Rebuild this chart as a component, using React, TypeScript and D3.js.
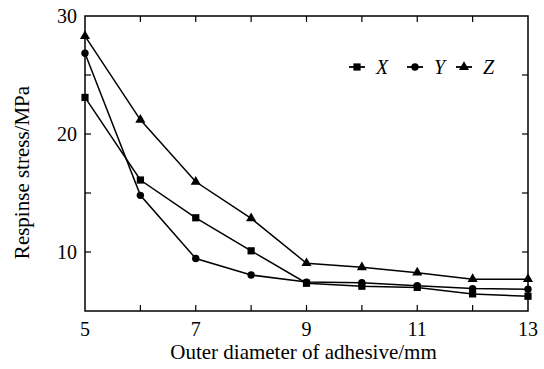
import React from 'react';
import * as d3 from 'd3';

const diameters = [5, 6, 7, 8, 9, 10, 11, 12, 13];
const seriesX = [23.1, 16.1, 12.9, 10.1, 7.35, 7.1, 7.0, 6.45, 6.25];
const seriesY = [26.85, 14.8, 9.45, 8.05, 7.45, 7.4, 7.15, 6.9, 6.85];
const seriesZ = [28.3, 21.2, 15.95, 12.85, 9.05, 8.7, 8.25, 7.7, 7.7];
const xTickLabels = [5, 7, 9, 11, 13];
const yTickLabels = [10, 20, 30];

const series = [
  { name: 'X', values: seriesX, marker: 'square' },
  { name: 'Y', values: seriesY, marker: 'circle' },
  { name: 'Z', values: seriesZ, marker: 'triangle' },
];

const width = 544;
const height = 369;
const margin = { top: 16, right: 16, bottom: 58, left: 85 };
const font = "'Liberation Serif', 'DejaVu Serif', serif";

const Marker: React.FC<{ type: string; cx: number; cy: number }> = ({ type, cx, cy }) => {
  if (type === 'square') return <rect x={cx - 3.6} y={cy - 3.6} width={7.2} height={7.2} fill="#000" />;
  if (type === 'circle') return <circle cx={cx} cy={cy} r={3.7} fill="#000" />;
  const sym = d3.symbol().type(d3.symbolTriangle).size(44)();
  return <path d={sym || ''} transform={`translate(${cx},${cy})`} fill="#000" />;
};

export default function App() {
  const innerW = width - margin.left - margin.right;
  const innerH = height - margin.top - margin.bottom;
  const x = d3.scaleLinear().domain([5, 13]).range([0, innerW]);
  const y = d3.scaleLinear().domain([5, 30]).range([innerH, 0]);
  const line = d3.line<number>().x((_, i) => x(diameters[i])).y(d => y(d));
  const xTicks = d3.range(5, 14, 1);
  const yTicks = d3.range(5, 31, 5).filter(v => v > 5 && v < 30);

  const legendX = [357, 415, 464];

  return (
    <svg width={width} height={height} style={{ position: 'absolute', left: 0, top: 0, background: '#fff', fontFamily: font }}>
      <g transform={`translate(${margin.left},${margin.top})`}>
        {/* frame */}
        <rect x={0} y={0} width={innerW} height={innerH} fill="none" stroke="#000" strokeWidth={1.5} />
        {xTicks.slice(1, -1).map(t => (
          <g key={'xt' + t}>
            <line x1={x(t)} x2={x(t)} y1={innerH} y2={innerH - 6} stroke="#000" strokeWidth={1.2} />
            <line x1={x(t)} x2={x(t)} y1={0} y2={6} stroke="#000" strokeWidth={1.2} />
          </g>
        ))}
        {yTicks.map(t => (
          <g key={'yt' + t}>
            <line x1={0} x2={6} y1={y(t)} y2={y(t)} stroke="#000" strokeWidth={1.2} />
            <line x1={innerW} x2={innerW - 6} y1={y(t)} y2={y(t)} stroke="#000" strokeWidth={1.2} />
          </g>
        ))}
        {xTickLabels.map(t => (
          <text key={'xl' + t} x={x(t)} y={innerH + 25} textAnchor="middle" fontSize={20}>{t}</text>
        ))}
        {yTickLabels.map(t => (
          <text key={'yl' + t} x={-8} y={y(t) + 7} textAnchor="end" fontSize={20}>{t}</text>
        ))}
        <text x={innerW / 2 - 3} y={innerH + 48} textAnchor="middle" fontSize={21}>Outer diameter of adhesive/mm</text>
        <text transform={`translate(${-56},${innerH / 2 + 9}) rotate(-90)`} textAnchor="middle" fontSize={21}>Respinse stress/MPa</text>

        {series.map(s => (
          <g key={s.name}>
            <path d={line(s.values) || ''} fill="none" stroke="#000" strokeWidth={1.5} />
            {s.values.map((v, i) => (
              <Marker key={i} type={s.marker} cx={x(diameters[i])} cy={y(v)} />
            ))}
          </g>
        ))}
      </g>

      {/* legend */}
      <g>
        {series.map((s, i) => (
          <g key={'lg' + s.name}>
            <line x1={legendX[i] - 8} x2={legendX[i] + 8} y1={67} y2={67} stroke="#000" strokeWidth={1.8} />
            <Marker type={s.marker} cx={legendX[i]} cy={67} />
            <text x={legendX[i] + 19} y={74} fontSize={20} fontStyle="italic">{s.name}</text>
          </g>
        ))}
      </g>
    </svg>
  );
}
